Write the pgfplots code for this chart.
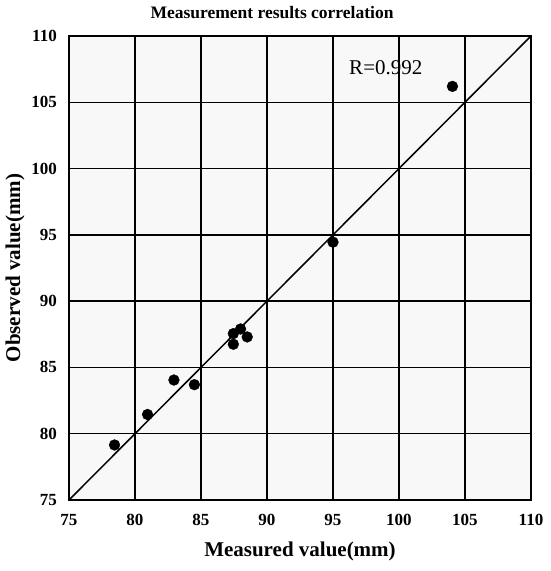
\documentclass[border=0pt]{standalone}
\usepackage{pgfplots}
\pgfplotsset{compat=1.18}
\usepackage{fontspec}
\setmainfont{Liberation Serif}
\definecolor{bgc}{RGB}{248,248,248}
\begin{document}
\begin{tikzpicture}
\path[use as bounding box] (-69pt,-71pt) rectangle (481pt,500pt);
\begin{axis}[
  at={(0pt,0pt)}, anchor=south west,
  scale only axis, width=462pt, height=464pt,
  xmin=75, xmax=110, ymin=75, ymax=110,
  xtick={75,80,...,110}, ytick={75,80,...,110},
  grid=major,
  grid style={black, line width=1.4pt},
  axis line style={black, line width=1.8pt},
  major tick length=0pt,
  axis background/.style={fill=bgc},
  /pgf/number format/assume math mode=true,
  tick label style={font=\fontsize{17}{17}\selectfont\bfseries},
  xticklabel style={anchor=north, inner sep=0pt, yshift=-14pt},
  yticklabel style={anchor=east, inner sep=0pt, xshift=-12pt},
  xlabel={Measured value(mm)},
  ylabel={Observed value(mm)},
  label style={font=\fontsize{21}{21}\selectfont\bfseries},
  xlabel style={at={(axis description cs:0.5,0)}, anchor=center, yshift=-51pt},
  ylabel style={at={(axis description cs:-0.1169,0.5)}, anchor=center},
  title={Measurement results correlation},
  title style={font=\fontsize{17.5}{17.5}\selectfont\bfseries, at={(axis description cs:0.4394,1)}, anchor=center, yshift=17pt},
  clip=false,
]
\addplot[black, line width=1.5pt, no marks] coordinates {(75,75) (110,110)};
\addplot[only marks, mark=*, mark size=5.4pt, black] coordinates {
(78.45,79.15) (80.95,81.45) (82.95,84.05) (84.5,83.7)
(87.45,87.55) (88.0,87.9) (88.5,87.3) (87.45,86.75)
(95.0,94.45) (104.05,106.2)
};
\node[font=\fontsize{21}{21}\selectfont, anchor=center] at (axis cs:99.0,107.6) {R=0.992};
\end{axis}
\end{tikzpicture}
\end{document}
